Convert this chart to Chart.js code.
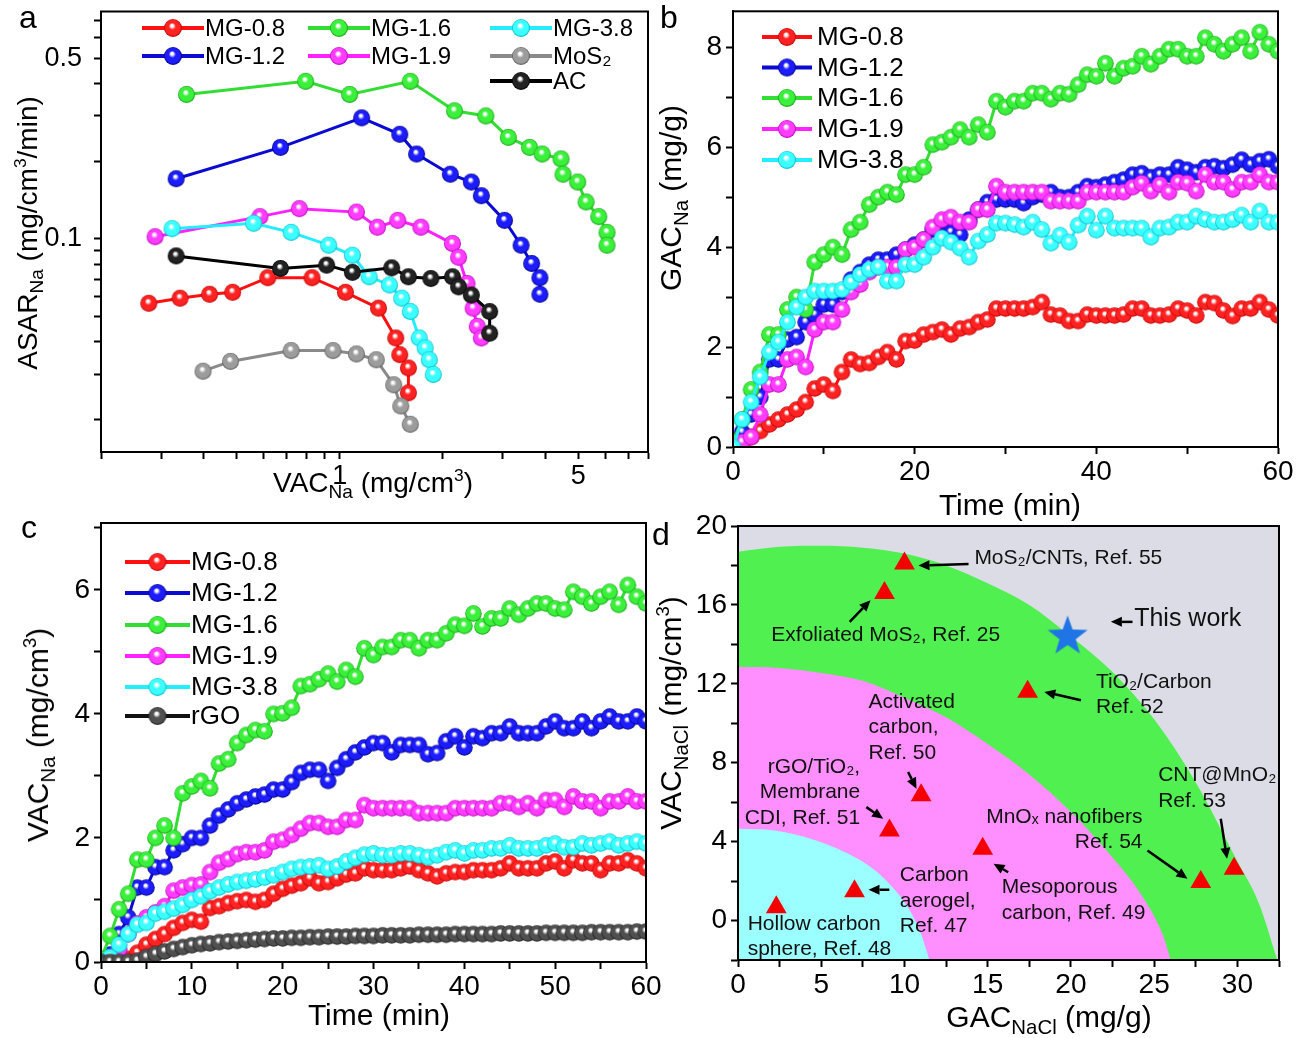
<!DOCTYPE html>
<html>
<head>
<meta charset="utf-8">
<title>Na adsorption rate, capacity and Ragone-type comparison</title>
<script src="https://cdn.jsdelivr.net/npm/chart.js@4.4.1/dist/chart.umd.min.js"></script>
<style>
  body { margin: 0; width: 1301px; height: 1038px; position: relative; overflow: hidden; background: #fff;
         font-family: "Liberation Sans", Arial, sans-serif; }
  canvas { position: absolute; }
  .t { position: absolute; white-space: nowrap; line-height: 1; color: #000; }
  .t sub { font-size: 68%; vertical-align: -0.32em; line-height: 0; }
  .t sup { font-size: 62%; vertical-align: 0.62em; line-height: 0; }
  .cx { transform: translateX(-50%); }
  .ry { transform: translate(-50%, -50%) rotate(-90deg); }
</style>
</head>
<body>
<canvas id="chart-a" width="660" height="520" style="left:0;top:0"></canvas>
<canvas id="chart-b" width="651" height="520" style="left:650px;top:0"></canvas>
<canvas id="chart-c" width="680" height="538" style="left:0;top:500px"></canvas>
<canvas id="chart-d" width="661" height="558" style="left:640px;top:480px"></canvas>

<div class="t" style="left:19px;top:1px;font-size:32px">a</div>
<div class="t" style="left:660px;top:1px;font-size:32px">b</div>
<div class="t" style="left:21px;top:511px;font-size:32px">c</div>
<div class="t" style="left:652px;top:518px;font-size:32px">d</div>

<div class="t cx" style="left:373px;top:469px;font-size:28px">VAC<sub>Na</sub> (mg/cm<sup>3</sup>)</div>
<div class="t ry" style="left:28px;top:233px;font-size:28px">ASAR<sub>Na</sub> (mg/cm<sup>3</sup>/min)</div>
<div class="t cx" style="left:1010px;top:490px;font-size:30px">Time (min)</div>
<div class="t ry" style="left:671px;top:198px;font-size:30px">GAC<sub>Na</sub> (mg/g)</div>
<div class="t cx" style="left:379px;top:1000px;font-size:30px">Time (min)</div>
<div class="t ry" style="left:38px;top:735px;font-size:30px">VAC<sub>Na</sub> (mg/cm<sup>3</sup>)</div>
<div class="t cx" style="left:1049px;top:1002px;font-size:30px">GAC<sub>NaCl</sub> (mg/g)</div>
<div class="t ry" style="left:671px;top:713px;font-size:30px">VAC<sub>NaCl</sub> (mg/cm<sup>3</sup>)</div>

<script>
"use strict";
const FONT = '"Liberation Sans", Arial, sans-serif';

/* ── Panel a: ASAR_Na vs VAC_Na (log–log) ───────────────── */
const A_X_TICKS = [0.2, 0.3, 0.4, 0.5, 0.6, 0.7, 0.8, 0.9, 1, 2, 3, 4, 5, 6, 7, 8];
const A_Y_TICKS = [0.02, 0.03, 0.04, 0.05, 0.06, 0.07, 0.08, 0.09, 0.1, 0.2, 0.3, 0.4, 0.5, 0.6, 0.7];
const A_X_LABELS = [1, 5];
const A_Y_LABELS = [0.1, 0.5];

const A_MG08_X = [0.276, 0.341, 0.416, 0.486, 0.616, 0.830, 1.04, 1.30, 1.46, 1.50, 1.59, 1.59];
const A_MG08_Y = [0.0564, 0.0590, 0.0611, 0.0622, 0.0708, 0.0708, 0.0622, 0.0540, 0.0414, 0.0357, 0.0317, 0.0254];
const A_MG12_X = [0.332, 0.671, 1.16, 1.50, 1.68, 2.11, 2.43, 2.60, 3.04, 3.40, 3.65, 3.86, 3.86];
const A_MG12_Y = [0.171, 0.226, 0.294, 0.254, 0.213, 0.178, 0.166, 0.147, 0.118, 0.0946, 0.0804, 0.0708, 0.0611];
const A_MG16_X = [0.356, 0.795, 1.07, 1.61, 2.17, 2.68, 3.12, 3.60, 3.92, 4.45, 4.51, 4.98, 5.27, 5.74, 6.07, 6.07];
const A_MG16_Y = [0.362, 0.407, 0.362, 0.407, 0.313, 0.299, 0.247, 0.226, 0.213, 0.204, 0.178, 0.166, 0.139, 0.122, 0.106, 0.0946];
const A_MG19_X = [0.288, 0.584, 0.762, 1.12, 1.29, 1.48, 1.73, 2.14, 2.23, 2.36, 2.46, 2.53, 2.60];
const A_MG19_Y = [0.102, 0.122, 0.131, 0.127, 0.111, 0.118, 0.111, 0.096, 0.085, 0.0673, 0.054, 0.0459, 0.0414];
const A_MG38_X = [0.323, 0.560, 0.721, 0.929, 1.09, 1.22, 1.40, 1.52, 1.61, 1.71, 1.78, 1.83, 1.88];
const A_MG38_Y = [0.1096, 0.115, 0.106, 0.0946, 0.0865, 0.0714, 0.0664, 0.059, 0.0524, 0.0414, 0.0379, 0.0341, 0.0299];
const A_MOS2_X = [0.398, 0.479, 0.721, 0.956, 1.12, 1.28, 1.44, 1.51, 1.61];
const A_MOS2_Y = [0.0308, 0.0336, 0.037, 0.037, 0.0359, 0.0341, 0.0273, 0.0226, 0.0192];
const A_AC_X = [0.332, 0.671, 0.916, 1.09, 1.42, 1.59, 1.85, 2.14, 2.23, 2.43, 2.75, 2.75];
const A_AC_Y = [0.086, 0.0769, 0.0792, 0.0743, 0.0773, 0.0714, 0.0703, 0.0714, 0.0653, 0.0607, 0.0524, 0.0432];

/* ── Panels b and c: time series, one reading per minute ── */
const TIME_MIN = [0, 1, 2, 3, 4, 5, 6, 7, 8, 9, 10, 11, 12, 13, 14, 15, 16, 17, 18, 19, 20,
  21, 22, 23, 24, 25, 26, 27, 28, 29, 30, 31, 32, 33, 34, 35, 36, 37, 38, 39, 40,
  41, 42, 43, 44, 45, 46, 47, 48, 49, 50, 51, 52, 53, 54, 55, 56, 57, 58, 59, 60];

// b: GAC_Na (mg/g)
const B_MG08 = [0, 0.07, 0.2, 0.32, 0.45, 0.55, 0.65, 0.75, 0.9, 1.17, 1.25, 1.12, 1.5, 1.75, 1.66, 1.68, 1.8, 1.9, 1.75, 2.12,
  2.13, 2.25, 2.3, 2.35, 2.25, 2.37, 2.4, 2.5, 2.55, 2.77, 2.77, 2.77, 2.77, 2.8, 2.9, 2.65, 2.63, 2.52, 2.52, 2.65,
  2.63, 2.63, 2.63, 2.65, 2.77, 2.77, 2.63, 2.63, 2.65, 2.77, 2.73, 2.63, 2.9, 2.88, 2.73, 2.62, 2.77, 2.77, 2.9, 2.75, 2.63];
const B_MG12 = [0, 0.3, 0.65, 1.0, 1.75, 1.75, 2.15, 2.2, 2.5, 2.65, 2.85, 2.85, 3.1, 3.35, 3.5, 3.65, 3.75, 3.75, 3.85, 3.95,
  4.05, 4.15, 4.35, 4.5, 4.3, 4.25, 4.55, 4.75, 4.9, 4.95, 4.95, 4.95, 4.88, 5.0, 5.05, 5.1, 5.0, 5.0, 5.1, 5.22,
  5.2, 5.25, 5.3, 5.35, 5.45, 5.48, 5.4, 5.45, 5.45, 5.6, 5.55, 5.5, 5.6, 5.62, 5.58, 5.65, 5.75, 5.65, 5.72, 5.76, 5.62];
const B_MG16 = [0.1, 0.55, 1.15, 1.5, 2.25, 2.25, 2.75, 3.0, 2.75, 3.7, 3.85, 4.0, 3.85, 4.35, 4.5, 4.85, 5.0, 5.1, 5.05, 5.45,
  5.45, 5.6, 6.05, 6.1, 6.2, 6.35, 6.2, 6.45, 6.3, 6.92, 6.8, 6.92, 6.92, 7.08, 7.08, 6.96, 7.08, 7.06, 7.25, 7.45,
  7.42, 7.68, 7.42, 7.58, 7.62, 7.82, 7.66, 7.82, 7.96, 7.96, 7.82, 7.82, 8.19, 8.06, 7.92, 8.06, 8.19, 7.92, 8.3, 8.06, 7.92];
const B_MG19 = [0, 0.1, 0.2, 0.65, 1.25, 1.25, 1.75, 1.8, 1.6, 2.35, 2.5, 2.5, 2.75, 3.1, 3.25, 3.5, 3.6, 3.6, 3.6, 3.95,
  4.0, 4.15, 4.4, 4.55, 4.6, 4.5, 4.5, 4.75, 4.75, 5.22, 5.1, 5.1, 5.1, 5.1, 5.1, 4.92, 4.92, 4.92, 4.92, 5.1,
  5.1, 5.1, 5.1, 5.1, 5.2, 5.28, 5.12, 5.25, 5.1, 5.3, 5.28, 5.12, 5.45, 5.3, 5.3, 5.15, 5.3, 5.3, 5.45, 5.3, 5.3];
const B_MG38 = [0, 0.55, 0.9, 1.4, 1.9, 2.1, 2.5, 2.8, 3.0, 3.12, 3.12, 3.12, 3.15, 3.3, 3.45, 3.55, 3.6, 3.32, 3.32, 3.65,
  3.65, 3.8, 4.0, 4.18, 4.1, 3.98, 3.8, 4.12, 4.25, 4.48, 4.48, 4.45, 4.4, 4.5, 4.35, 4.08, 4.24, 4.1, 4.44, 4.62,
  4.34, 4.62, 4.38, 4.38, 4.38, 4.38, 4.2, 4.38, 4.4, 4.5, 4.5, 4.62, 4.55, 4.5, 4.5, 4.55, 4.64, 4.5, 4.72, 4.5, 4.5];

// c: VAC_Na (mg/cm3)
const C_MG08 = [0, 0, 0, 0.05, 0.15, 0.28, 0.37, 0.45, 0.55, 0.63, 0.68, 0.65, 0.87, 0.9, 0.95, 0.98, 1.0, 0.97, 1.0, 1.1,
  1.18, 1.23, 1.27, 1.35, 1.27, 1.29, 1.35, 1.41, 1.43, 1.51, 1.48, 1.48, 1.48, 1.51, 1.54, 1.48, 1.43, 1.38, 1.43, 1.45,
  1.45, 1.48, 1.48, 1.48, 1.51, 1.59, 1.51, 1.51, 1.51, 1.59, 1.62, 1.51, 1.64, 1.59, 1.59, 1.48, 1.59, 1.59, 1.64, 1.59, 1.51];
const C_MG12 = [0, 0.12, 0.45, 0.72, 1.2, 1.2, 1.53, 1.53, 1.8, 1.9, 2.0, 2.0, 2.2, 2.36, 2.46, 2.56, 2.62, 2.67, 2.7, 2.78,
  2.78, 2.9, 3.05, 3.1, 3.1, 2.92, 3.13, 3.27, 3.38, 3.46, 3.53, 3.53, 3.38, 3.5, 3.5, 3.5, 3.35, 3.37, 3.56, 3.64,
  3.46, 3.64, 3.61, 3.69, 3.69, 3.8, 3.69, 3.69, 3.69, 3.8, 3.88, 3.77, 3.77, 3.88, 3.77, 3.88, 3.96, 3.88, 3.88, 3.96, 3.88];
const C_MG16 = [0.05, 0.42, 0.85, 1.1, 1.65, 1.65, 2.0, 2.2, 2.0, 2.72, 2.83, 2.92, 2.8, 3.2, 3.27, 3.53, 3.66, 3.74, 3.72, 4.0,
  4.01, 4.1, 4.45, 4.48, 4.56, 4.65, 4.52, 4.71, 4.6, 5.06, 4.95, 5.08, 5.08, 5.19, 5.19, 5.06, 5.19, 5.19, 5.3, 5.44,
  5.42, 5.62, 5.41, 5.54, 5.54, 5.7, 5.6, 5.7, 5.78, 5.78, 5.7, 5.68, 5.97, 5.89, 5.78, 5.89, 5.97, 5.76, 6.08, 5.89, 5.78];
const C_MG19 = [0, 0.05, 0.2, 0.45, 0.62, 0.72, 0.8, 0.9, 1.15, 1.2, 1.24, 1.25, 1.45, 1.6, 1.66, 1.74, 1.77, 1.77, 1.8, 1.94,
  1.97, 2.05, 2.15, 2.24, 2.24, 2.18, 2.18, 2.29, 2.29, 2.53, 2.48, 2.48, 2.48, 2.48, 2.48, 2.4, 2.4, 2.4, 2.4, 2.48,
  2.48, 2.48, 2.48, 2.48, 2.56, 2.56, 2.5, 2.56, 2.48, 2.61, 2.61, 2.5, 2.67, 2.59, 2.59, 2.48, 2.59, 2.59, 2.67, 2.59, 2.59];
const C_MG38 = [0, 0.08, 0.28, 0.45, 0.6, 0.63, 0.78, 0.81, 0.86, 0.92, 1.0, 1.06, 1.14, 1.2, 1.25, 1.29, 1.31, 1.33, 1.36, 1.4,
  1.45, 1.5, 1.53, 1.54, 1.56, 1.5, 1.54, 1.62, 1.68, 1.73, 1.75, 1.72, 1.72, 1.75, 1.75, 1.72, 1.69, 1.72, 1.77, 1.8,
  1.75, 1.8, 1.8, 1.83, 1.83, 1.88, 1.83, 1.83, 1.83, 1.88, 1.91, 1.85, 1.85, 1.91, 1.88, 1.91, 1.94, 1.88, 1.91, 1.94, 1.91];
const C_RGO = [0, 0, 0, 0, 0.02, 0.08, 0.13, 0.17, 0.21, 0.24, 0.27, 0.29, 0.3, 0.32, 0.33, 0.34, 0.35, 0.36, 0.37, 0.38,
  0.38, 0.39, 0.39, 0.4, 0.4, 0.41, 0.41, 0.41, 0.42, 0.42, 0.42, 0.43, 0.43, 0.43, 0.43, 0.44, 0.44, 0.44, 0.44, 0.45,
  0.45, 0.45, 0.45, 0.45, 0.46, 0.46, 0.46, 0.46, 0.46, 0.47, 0.47, 0.47, 0.47, 0.47, 0.48, 0.48, 0.48, 0.48, 0.48, 0.49, 0.49];

/* ── Panel d: VAC_NaCl vs GAC_NaCl comparison ───────────── */
const D_REF_GAC = [10.0, 8.8, 17.4, 11.0, 9.1, 14.7, 7.0, 2.3, 27.8, 29.8];
const D_REF_VAC = [18.1, 16.6, 11.6, 6.35, 4.57, 3.64, 1.49, 0.68, 1.95, 2.62];
const D_THIS_GAC = [19.8];
const D_THIS_VAC = [14.4];
// boundaries of the shaded zones
const ZONE_OUTER_GAC = [0, 2.5, 5, 7.5, 10, 12.5, 15, 17.5, 20, 22.5, 25, 27.5, 30, 31.3, 32.4];
const ZONE_OUTER_VAC = [18.7, 18.95, 19.0, 18.9, 18.6, 18.0, 17.1, 16.0, 14.4, 12.6, 10.2, 7.0, 3.0, 0.85, -2];
const ZONE_MID_GAC = [0, 2.5, 5, 7.5, 10, 12.5, 15, 17.5, 20, 22.5, 24.2, 25.5, 26];
const ZONE_MID_VAC = [12.86, 12.8, 12.55, 12.15, 11.3, 10.3, 8.95, 7.4, 5.5, 3.2, 1.35, -0.68, -2];
const ZONE_INNER_GAC = [0, 2.2, 4.7, 7.2, 8.7, 10.2, 11.0, 11.5];
const ZONE_INNER_VAC = [4.65, 4.57, 4.06, 3.13, 2.2, 0.68, -0.68, -2];

/* ── Styles ──────────────────────────────────────────────── */
const STY = {
  red:     { line: '#ff1010', body: '#ff2222', rim: '#b80000' },
  blue:    { line: '#0a0ad2', body: '#1c1cff', rim: '#000070' },
  green:   { line: '#33dd33', body: '#3af03a', rim: '#129a12' },
  magenta: { line: '#ff22ff', body: '#ff3cff', rim: '#b000b0' },
  cyan:    { line: '#22eeff', body: '#3cffff', rim: '#00b4c4' },
  gray:    { line: '#8a8a8a', body: '#9c9c9c', rim: '#585858' },
  black:   { line: '#000000', body: '#222222', rim: '#000000' },
  rgo:     { line: '#111111', body: '#505050', rim: '#1c1c1c' },
};

/** Shaded sphere used as marker image. */
function ball(sty, r) {
  const s = Math.ceil(2 * r + 2);
  const c = document.createElement('canvas');
  c.width = c.height = s;
  const g = c.getContext('2d');
  const cx = s / 2, cy = s / 2;
  const grd = g.createRadialGradient(cx - r * 0.12, cy - r * 0.3, 0, cx, cy, r);
  grd.addColorStop(0, '#ffffff');
  grd.addColorStop(0.14, '#ffffff');
  grd.addColorStop(0.4, sty.body);
  grd.addColorStop(0.82, sty.body);
  grd.addColorStop(1, sty.rim);
  g.fillStyle = grd;
  g.beginPath(); g.arc(cx, cy, r, 0, Math.PI * 2); g.fill();
  return c;
}

/** Filled five-point star marker. */
function starImg(color, R, r) {
  const s = Math.ceil(2 * R + 2);
  const c = document.createElement('canvas');
  c.width = c.height = s;
  const g = c.getContext('2d');
  g.fillStyle = color;
  g.beginPath();
  for (let i = 0; i < 10; i++) {
    const a = -Math.PI / 2 + i * Math.PI / 5;
    const rr = i % 2 ? r : R;
    g.lineTo(s / 2 + rr * Math.cos(a), s / 2 + rr * Math.sin(a));
  }
  g.closePath(); g.fill();
  return c;
}

/* ── Plugins ─────────────────────────────────────────────── */
const framePlugin = {
  id: 'frame',
  beforeDraw(chart, args, opts) {
    if (!opts.background) return;
    const { ctx, chartArea: a } = chart;
    ctx.save();
    ctx.fillStyle = opts.background;
    ctx.fillRect(a.left, a.top, a.right - a.left, a.bottom - a.top);
    ctx.restore();
  },
  afterDatasetsDraw(chart) {
    const { ctx, chartArea: a } = chart;
    ctx.save();
    ctx.strokeStyle = '#000';
    ctx.lineWidth = 2;
    ctx.strokeRect(a.left, a.top, a.right - a.left, a.bottom - a.top);
    ctx.restore();
  },
};

const ballLegend = {
  id: 'ballLegend',
  afterDraw(chart, args, opts) {
    if (!opts.items) return;
    const ctx = chart.ctx;
    ctx.save();
    ctx.font = `${opts.size}px ${FONT}`;
    ctx.textBaseline = 'middle';
    ctx.fillStyle = '#000';
    opts.items.forEach(it => {
      const x = it.x - opts.ox, y = it.y - opts.oy;
      ctx.strokeStyle = it.sty.line;
      ctx.lineWidth = 4;
      ctx.beginPath(); ctx.moveTo(x, y); ctx.lineTo(x + opts.len, y); ctx.stroke();
      const img = ball(it.sty, 9);
      ctx.drawImage(img, x + opts.len / 2 - img.width / 2, y - img.height / 2);
      ctx.fillText(it.label, x + opts.len + opts.gap, y + 1);
    });
    ctx.restore();
  },
};

const notesPlugin = {
  id: 'notes',
  afterDatasetsDraw(chart, args, opts) {
    if (!opts.texts) return;
    const { ctx, scales: { x, y } } = chart;
    ctx.save();
    ctx.fillStyle = '#111';
    ctx.textBaseline = 'middle';
    opts.texts.forEach(t => {
      ctx.font = `${t.size || opts.size}px ${FONT}`;
      ctx.textAlign = t.align || 'left';
      t.lines.forEach((ln, i) => ctx.fillText(ln, x.getPixelForValue(t.x), y.getPixelForValue(t.y) + i * opts.gap));
    });
    ctx.strokeStyle = '#000';
    ctx.fillStyle = '#000';
    ctx.lineWidth = 2.5;
    opts.arrows.forEach(([x1, y1, x2, y2]) => {
      const p1 = [x.getPixelForValue(x1), y.getPixelForValue(y1)];
      const p2 = [x.getPixelForValue(x2), y.getPixelForValue(y2)];
      const ang = Math.atan2(p2[1] - p1[1], p2[0] - p1[0]);
      const hl = 11, hw = 5;
      const bx = p2[0] - hl * Math.cos(ang), by = p2[1] - hl * Math.sin(ang);
      ctx.beginPath(); ctx.moveTo(p1[0], p1[1]); ctx.lineTo(bx, by); ctx.stroke();
      ctx.beginPath();
      ctx.moveTo(p2[0], p2[1]);
      ctx.lineTo(bx + hw * Math.sin(ang), by - hw * Math.cos(ang));
      ctx.lineTo(bx - hw * Math.sin(ang), by + hw * Math.cos(ang));
      ctx.closePath(); ctx.fill();
    });
    ctx.restore();
  },
};

/* ── Axis helpers ────────────────────────────────────────── */
const GRID = { drawOnChartArea: false, drawTicks: true, tickLength: 7, tickWidth: 2, tickColor: '#000' };
const BORDER = { display: true, color: '#000', width: 2 };

function fitter(vertical, size) {
  return s => {
    if (vertical) { s.width = size; s.paddingTop = 0; s.paddingBottom = 0; }
    else { s.height = size; s.paddingLeft = 0; s.paddingRight = 0; }
  };
}

function linAxis(min, max, step, every, vertical, size, pad) {
  return {
    type: 'linear', min, max,
    ticks: {
      stepSize: step, includeBounds: false, autoSkip: false, maxRotation: 0, minRotation: 0,
      padding: pad, color: '#000', font: { family: FONT, size: 28 },
      callback: v => (Math.abs(v / every - Math.round(v / every)) < 1e-6 ? String(v) : ''),
    },
    grid: GRID, border: BORDER,
    afterFit: fitter(vertical, size),
  };
}

function logAxis(min, max, ticks, labels, vertical, size, pad) {
  return {
    type: 'logarithmic', min, max,
    afterBuildTicks: s => { s.ticks = ticks.map(v => ({ value: v })); },
    ticks: {
      autoSkip: false, maxRotation: 0, minRotation: 0, padding: pad, color: '#000',
      font: { family: FONT, size: 27 },
      callback: v => (labels.includes(v) ? String(v) : ''),
    },
    grid: GRID, border: BORDER,
    afterFit: fitter(vertical, size),
  };
}

const BASE = { animation: false, responsive: false, devicePixelRatio: 1, events: [] };

function xySet(label, xs, ys, sty, order, r) {
  return {
    label, order,
    data: xs.map((v, i) => ({ x: v, y: ys[i] })),
    borderColor: sty.line, borderWidth: 3, tension: 0, fill: false,
    pointStyle: ball(sty, r), pointRadius: r,
  };
}

function timeSet(label, values, sty, order) {
  return xySet(label, TIME_MIN, values, sty, order, 8.3);
}

/* ── Panel a ─────────────────────────────────────────────── */
new Chart(document.getElementById('chart-a'), {
  type: 'line',
  data: {
    datasets: [
      xySet('MG-0.8', A_MG08_X, A_MG08_Y, STY.red, 7, 8.5),
      xySet('MG-1.2', A_MG12_X, A_MG12_Y, STY.blue, 6, 8.5),
      xySet('MG-1.6', A_MG16_X, A_MG16_Y, STY.green, 5, 8.5),
      xySet('MG-1.9', A_MG19_X, A_MG19_Y, STY.magenta, 4, 8.5),
      xySet('MG-3.8', A_MG38_X, A_MG38_Y, STY.cyan, 3, 8.5),
      xySet('MoS₂', A_MOS2_X, A_MOS2_Y, STY.gray, 2, 8.5),
      xySet('AC', A_AC_X, A_AC_Y, STY.black, 1, 8.5),
    ],
  },
  options: {
    ...BASE,
    layout: { padding: { top: 8, right: 12, left: 0, bottom: 0 } },
    plugins: {
      legend: { display: false }, tooltip: { enabled: false },
      ballLegend: {
        ox: 0, oy: 0, size: 24, len: 62, gap: 1,
        items: [
          { label: 'MG-0.8', sty: STY.red, x: 142, y: 28 },
          { label: 'MG-1.2', sty: STY.blue, x: 142, y: 56 },
          { label: 'MG-1.6', sty: STY.green, x: 308, y: 28 },
          { label: 'MG-1.9', sty: STY.magenta, x: 308, y: 56 },
          { label: 'MG-3.8', sty: STY.cyan, x: 490, y: 28 },
          { label: 'MoS₂', sty: STY.gray, x: 490, y: 56 },
          { label: 'AC', sty: STY.black, x: 490, y: 81 },
        ],
      },
    },
    scales: {
      x: logAxis(0.2, 8, A_X_TICKS, A_X_LABELS, false, 68, 1),
      y: logAxis(0.015, 0.758, A_Y_TICKS, A_Y_LABELS, true, 101, 12),
    },
  },
  plugins: [framePlugin, ballLegend],
});

/* ── Panel b ─────────────────────────────────────────────── */
new Chart(document.getElementById('chart-b'), {
  type: 'line',
  data: {
    datasets: [
      timeSet('MG-0.8', B_MG08, STY.red, 5),
      timeSet('MG-1.2', B_MG12, STY.blue, 4),
      timeSet('MG-1.6', B_MG16, STY.green, 3),
      timeSet('MG-1.9', B_MG19, STY.magenta, 2),
      timeSet('MG-3.8', B_MG38, STY.cyan, 1),
    ],
  },
  options: {
    ...BASE,
    layout: { padding: { top: 10, right: 23, left: 0, bottom: 0 } },
    plugins: {
      legend: { display: false }, tooltip: { enabled: false },
      ballLegend: {
        ox: 650, oy: 0, size: 26, len: 50, gap: 5,
        items: [
          { label: 'MG-0.8', sty: STY.red, x: 762, y: 37 },
          { label: 'MG-1.2', sty: STY.blue, x: 762, y: 67.5 },
          { label: 'MG-1.6', sty: STY.green, x: 762, y: 98 },
          { label: 'MG-1.9', sty: STY.magenta, x: 762, y: 129 },
          { label: 'MG-3.8', sty: STY.cyan, x: 762, y: 160 },
        ],
      },
    },
    scales: {
      x: linAxis(0, 60, 10, 20, false, 73, 1),
      y: linAxis(0, 8.72, 1, 2, true, 83, 4),
    },
  },
  plugins: [framePlugin, ballLegend],
});

/* ── Panel c ─────────────────────────────────────────────── */
new Chart(document.getElementById('chart-c'), {
  type: 'line',
  data: {
    datasets: [
      timeSet('MG-0.8', C_MG08, STY.red, 6),
      timeSet('MG-1.2', C_MG12, STY.blue, 5),
      timeSet('MG-1.6', C_MG16, STY.green, 4),
      timeSet('MG-1.9', C_MG19, STY.magenta, 3),
      timeSet('MG-3.8', C_MG38, STY.cyan, 2),
      timeSet('rGO', C_RGO, STY.rgo, 1),
    ],
  },
  options: {
    ...BASE,
    layout: { padding: { top: 23, right: 34, left: 0, bottom: 0 } },
    plugins: {
      legend: { display: false }, tooltip: { enabled: false },
      ballLegend: {
        ox: 0, oy: 500, size: 26, len: 65, gap: 1,
        items: [
          { label: 'MG-0.8', sty: STY.red, x: 125, y: 562 },
          { label: 'MG-1.2', sty: STY.blue, x: 125, y: 593 },
          { label: 'MG-1.6', sty: STY.green, x: 125, y: 625 },
          { label: 'MG-1.9', sty: STY.magenta, x: 125, y: 656 },
          { label: 'MG-3.8', sty: STY.cyan, x: 125, y: 687 },
          { label: 'rGO', sty: STY.rgo, x: 125, y: 716 },
        ],
      },
    },
    scales: {
      x: linAxis(0, 60, 5, 10, false, 76, 1),
      y: linAxis(0, 7.08, 1, 2, true, 101, 4),
    },
  },
  plugins: [framePlugin, ballLegend],
});

/* ── Panel d ─────────────────────────────────────────────── */
function zone(xs, ys, color, order) {
  return {
    label: 'zone', order,
    data: xs.map((v, i) => ({ x: v, y: ys[i] })),
    borderWidth: 0, borderColor: 'rgba(0,0,0,0)', backgroundColor: color,
    fill: 'start', pointRadius: 0, cubicInterpolationMode: 'monotone',
  };
}

new Chart(document.getElementById('chart-d'), {
  type: 'line',
  data: {
    datasets: [
      {
        label: 'Literature', order: 0,
        data: D_REF_GAC.map((v, i) => ({ x: v, y: D_REF_VAC[i] })),
        showLine: false, pointStyle: 'triangle', pointRadius: 12,
        pointBackgroundColor: '#f40000', pointBorderWidth: 0,
      },
      {
        label: 'This work', order: 0,
        data: D_THIS_GAC.map((v, i) => ({ x: v, y: D_THIS_VAC[i] })),
        showLine: false, pointStyle: starImg('#1f74e6', 21, 8.5), pointRadius: 20,
      },
      zone(ZONE_INNER_GAC, ZONE_INNER_VAC, '#9cffff', 1),
      zone(ZONE_MID_GAC, ZONE_MID_VAC, '#ff8eff', 2),
      zone(ZONE_OUTER_GAC, ZONE_OUTER_VAC, '#50f050', 3),
    ],
  },
  options: {
    ...BASE,
    layout: { padding: { top: 46, right: 22, left: 0, bottom: 0 } },
    plugins: {
      legend: { display: false }, tooltip: { enabled: false },
      frame: { background: '#dcdce6' },
      notes: {
        size: 21, gap: 25.5,
        texts: [
          { x: 14.2, y: 18.36, lines: ['MoS₂/CNTs, Ref. 55'] },
          { x: 2.0, y: 14.47, lines: ['Exfoliated MoS₂, Ref. 25'] },
          { x: 23.8, y: 15.3, lines: ['This work'], size: 25 },
          { x: 21.5, y: 12.1, lines: ['TiO₂/Carbon', 'Ref. 52'] },
          { x: 7.84, y: 11.08, lines: ['Activated', 'carbon,', 'Ref. 50'] },
          { x: 7.34, y: 7.78, lines: ['rGO/TiO₂,', 'Membrane', 'CDI, Ref. 51'], align: 'right' },
          { x: 25.24, y: 7.36, lines: ['CNT@MnO₂', 'Ref. 53'] },
          { x: 24.3, y: 5.25, lines: ['MnOₓ nanofibers', 'Ref. 54'], align: 'right' },
          { x: 9.72, y: 2.28, lines: ['Carbon', 'aerogel,', 'Ref. 47'] },
          { x: 15.85, y: 1.69, lines: ['Mesoporous', 'carbon, Ref. 49'] },
          { x: 0.58, y: -0.17, lines: ['Hollow carbon', 'sphere, Ref. 48'] },
        ],
        arrows: [
          [13.85, 18.07, 10.84, 18.0],
          [6.71, 15.14, 7.96, 16.24],
          [23.7, 15.14, 22.4, 15.14],
          [20.6, 11.17, 18.4, 11.59],
          [10.22, 7.53, 10.72, 6.68],
          [7.71, 5.75, 8.72, 5.16],
          [29.0, 5.16, 29.38, 3.13],
          [24.6, 3.55, 27.0, 2.12],
          [9.09, 1.56, 7.84, 1.56],
          [16.23, 2.45, 15.35, 2.88],
        ],
      },
    },
    scales: {
      x: linAxis(0, 32.5, 2.5, 5, false, 78, 1),
      y: linAxis(-2, 20, 2, 4, true, 98, 4),
    },
  },
  plugins: [framePlugin, notesPlugin],
});
</script>
</body>
</html>
